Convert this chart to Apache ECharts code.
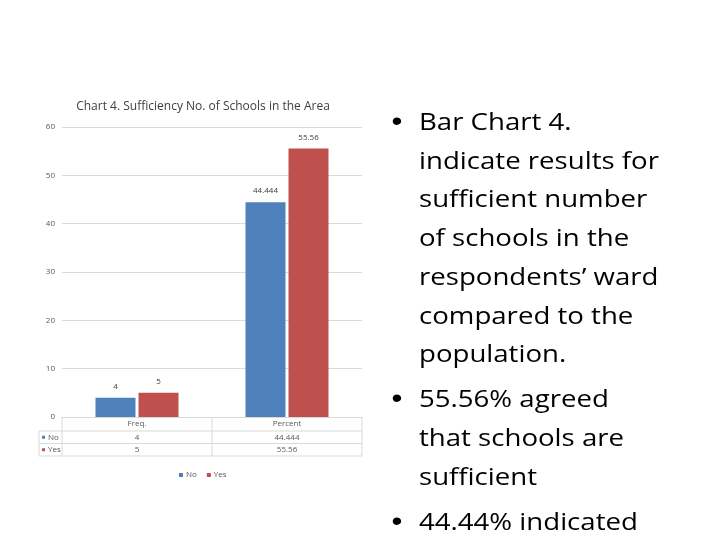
<!DOCTYPE html>
<html>
<head>
<meta charset="utf-8">
<script src="https://cdn.jsdelivr.net/npm/echarts@6/dist/echarts.min.js"></script>
<style>
  html, body { margin: 0; padding: 0; background: #fff; }
  #wrap { position: relative; width: 720px; height: 540px; }
  #chart { position: absolute; left: 0; top: 0; width: 720px; height: 540px; }
  #notes { position: absolute; left: 419px; top: 102px; font-family: 'Open Sans', 'Noto Sans', sans-serif;
    font-size: 24px; line-height: 38.7px; color: #000; transform: scaleX(1.15); transform-origin: 0 0; }
  #notes p { position: relative; margin: 0 0 6.5px 0; white-space: nowrap; }
  #notes p::before { content: '\2022'; position: absolute; left: -24px; top: 0; font-family: 'Liberation Sans', sans-serif; font-size: 27px; }
</style>
</head>
<body>
<div id="wrap">
  <div id="chart"></div>
  <div id="notes">
    <p>Bar Chart 4.<br>indicate results for<br>sufficient number<br>of schools in the<br>respondents’ ward<br>compared to the<br>population.</p>
    <p>55.56% agreed<br>that schools are<br>sufficient</p>
    <p>44.44% indicated</p>
  </div>
</div>
<script>
const categories = ['Freq.', 'Percent']
const noValues = [4, 44.444]
const yesValues = [5, 55.56]
const seriesNames = ['No', 'Yes']
const colors = ['#4F81BD', '#C0504D']

const myChart = echarts.init(document.getElementById('chart'))
const gridBox = { left: 62, top: 127, width: 300, height: 290 }
const font = '"Open Sans", "Liberation Sans", sans-serif'

const option = {
  animation: false,
  title: {
    text: 'Chart 4. Sufficiency No. of Schools in the Area',
    left: 198,
    top: 96,
    textAlign: 'center',
    textStyle: { fontSize: 12, fontWeight: 'normal', color: '#404040', fontFamily: font }
  },
  legend: {
    data: seriesNames,
    left: 174,
    top: 466,
    icon: 'rect',
    itemWidth: 4,
    itemHeight: 4,
    itemGap: 10,
    textStyle: { fontSize: 8, color: '#595959', fontFamily: font, padding: [0, 0, 0, -2] }
  },
  grid: gridBox,
  xAxis: {
    type: 'category',
    data: categories,
    axisLine: { lineStyle: { color: '#d9d9d9' } },
    axisTick: { show: false },
    axisLabel: { show: false }
  },
  yAxis: {
    type: 'value',
    min: 0,
    max: 60,
    interval: 10,
    axisLine: { show: false },
    axisTick: { show: false },
    axisLabel: { fontSize: 8, color: '#595959', margin: 7, fontFamily: font },
    splitLine: { lineStyle: { color: '#d9d9d9' } }
  },
  series: [
    {
      name: seriesNames[0], type: 'bar', data: noValues, barWidth: 40, barGap: '7.5%',
      itemStyle: { color: colors[0] },
      label: { show: true, position: 'top', distance: 7, fontSize: 8, color: '#404040', fontFamily: font }
    },
    {
      name: seriesNames[1], type: 'bar', data: yesValues, barWidth: 40, barGap: '7.5%',
      itemStyle: { color: colors[1] },
      label: { show: true, position: 'top', distance: 7, fontSize: 8, color: '#404040', fontFamily: font }
    }
  ]
}
myChart.setOption(option)

// data table under the axis
const rowH = [14, 12.5, 12.5]
const tableLeft = 39
const x0 = gridBox.left
const x1 = gridBox.left + gridBox.width
const yTop = gridBox.top + gridBox.height
const rowsY = [yTop, yTop + rowH[0], yTop + rowH[0] + rowH[1], yTop + rowH[0] + rowH[1] + rowH[2]]
const lineStyle = { stroke: '#d9d9d9', lineWidth: 1 }
const els = []
// horizontal lines
for (let i = 1; i < rowsY.length; i++) {
  els.push({ type: 'line', shape: { x1: tableLeft, y1: rowsY[i], x2: x1, y2: rowsY[i] }, style: lineStyle })
}
// vertical lines at category boundaries
const step = gridBox.width / categories.length
for (let i = 0; i <= categories.length; i++) {
  els.push({ type: 'line', shape: { x1: x0 + i * step, y1: yTop, x2: x0 + i * step, y2: rowsY[3] }, style: lineStyle })
}
els.push({ type: 'line', shape: { x1: tableLeft, y1: rowsY[1], x2: tableLeft, y2: rowsY[3] }, style: lineStyle })
const cellText = (txt, x, y, align) => ({
  type: 'text', x: x, y: y,
  style: { text: txt, fontSize: 8, fill: '#595959', fontFamily: font, align: align || 'center', verticalAlign: 'middle' }
})
const rows = [noValues, yesValues]
categories.forEach((c, i) => {
  const cx = myChart.convertToPixel({ xAxisIndex: 0 }, c)
  els.push(cellText(c, cx, (rowsY[0] + rowsY[1]) / 2))
  rows.forEach((vals, r) => {
    els.push(cellText(String(vals[i]), cx, (rowsY[r + 1] + rowsY[r + 2]) / 2))
  })
})
seriesNames.forEach((n, r) => {
  const cy = (rowsY[r + 1] + rowsY[r + 2]) / 2
  els.push({ type: 'rect', shape: { x: 42, y: cy - 1.5, width: 3, height: 3 }, style: { fill: colors[r] } })
  els.push(cellText(n, 48, cy, 'left'))
})
myChart.setOption({ graphic: els })
</script>
</body>
</html>
